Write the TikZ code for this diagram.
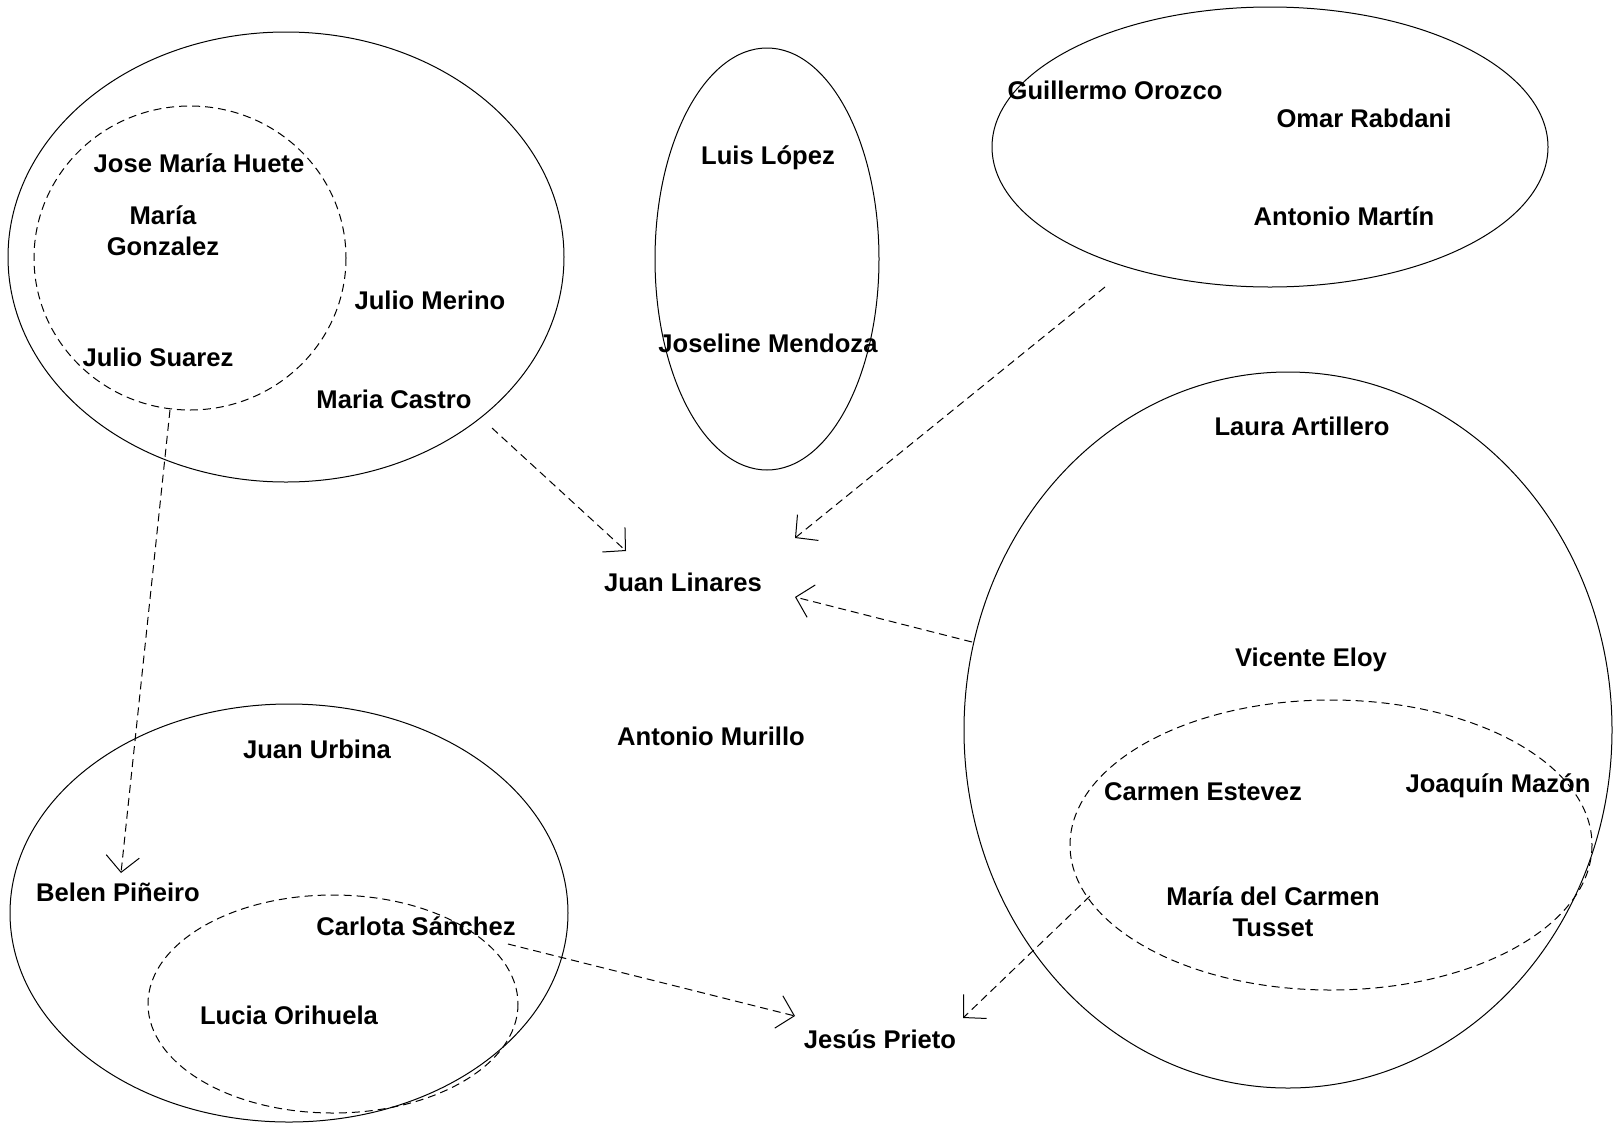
\documentclass[tikz,border=0pt]{standalone}
\usepackage{fontspec}
\setmainfont{Liberation Sans}
\usetikzlibrary{arrows.meta}

\tikzset{every picture/.style={line width=0.75pt}}
\tikzset{
  persona/.style={inner sep=0.75pt, font=\fontsize{19.2}{23}\selectfont\bfseries, align=center},
  borde/.style={dash pattern=on 6pt off 3.75pt},
  relacion/.style={borde, -{Straight Barb[length=12pt,width=25pt]}}
}

\begin{document}
\begin{tikzpicture}[x=0.75pt,y=0.75pt,yscale=-1,xscale=1]
        \useasboundingbox (0,0) rectangle (1613,1132);

        %Shape: Ellipse [id:grupo superior izquierdo]
        \draw (286,257) ellipse [x radius=278, y radius=225];
        %Shape: Ellipse [id:subgrupo superior izquierdo]
        \draw [borde] (190,258) ellipse [x radius=156, y radius=152];
        %Shape: Ellipse [id:grupo central]
        \draw (767,259) ellipse [x radius=112, y radius=211];
        %Shape: Ellipse [id:grupo superior derecho]
        \draw (1270,147) ellipse [x radius=278, y radius=140];
        %Shape: Ellipse [id:grupo derecho]
        \draw (1288,730) ellipse [x radius=324, y radius=358];
        %Shape: Ellipse [id:subgrupo derecho]
        \draw [borde] (1331,845) ellipse [x radius=261, y radius=145];
        %Shape: Ellipse [id:grupo inferior izquierdo]
        \draw (289,913) ellipse [x radius=279, y radius=209];
        %Shape: Ellipse [id:subgrupo inferior izquierdo]
        \draw [borde] (333,1004) ellipse [x radius=185, y radius=109];

        % Text Node
        \draw (199,163) node (huete) [persona] {Jose María Huete};
        % Text Node
        \draw (163,231) node (gonzalez) [persona] {María\\Gonzalez};
        % Text Node
        \draw (430,300) node (merino) [persona] {Julio Merino};
        % Text Node
        \draw (158,357) node (suarez) [persona] {Julio Suarez};
        % Text Node
        \draw (394,399) node (castro) [persona] {Maria Castro};
        % Text Node
        \draw (768,158) node (lopez) [persona] {Luis López};
        % Text Node
        \draw (768,343) node (mendoza) [persona] {Joseline Mendoza};
        % Text Node
        \draw (1115,90) node (orozco) [persona] {Guillermo Orozco};
        % Text Node
        \draw (1364,118) node (rabdani) [persona] {Omar Rabdani};
        % Text Node
        \draw (1344,216) node (martin) [persona] {Antonio Martín};
        % Text Node
        \draw (1302,426) node (artillero) [persona] {Laura Artillero};
        % Text Node
        \draw (683,582) node (linares) [persona] {Juan Linares};
        % Text Node
        \draw (1311,660) node (eloy) [persona] {Vicente Eloy};
        % Text Node
        \draw (711,736) node (murillo) [persona] {Antonio Murillo};
        % Text Node
        \draw (317,749) node (urbina) [persona] {Juan Urbina};
        % Text Node
        \draw (1203,792) node (estevez) [persona] {Carmen Estevez};
        % Text Node
        \draw (1498,786) node (mazon) [persona] {Joaquín Mazón};
        % Text Node
        \draw (118,892) node (pineiro) [persona] {Belen Piñeiro};
        % Text Node
        \draw (1273,912) node (tusset) [persona] {María del Carmen\\Tusset};
        % Text Node
        \draw (416,926) node (sanchez) [persona] {Carlota Sánchez};
        % Text Node
        \draw (289,1015) node (orihuela) [persona] {Lucia Orihuela};
        % Text Node
        \draw (880,1039) node (prieto) [persona] {Jesús Prieto};

        % Connector ends
        \coordinate (desdeCastro) at (492,428);
        \coordinate (hastaLinaresA) at (626,551);
        \coordinate (desdeOrozco) at (1105,287);
        \coordinate (hastaLinaresB) at (795,538);
        \coordinate (desdeArtillero) at (972,642);
        \coordinate (hastaLinaresC) at (795,597);
        \coordinate (desdeSuarez) at (170,410);
        \coordinate (hastaPineiro) at (121,873);
        \coordinate (desdeSanchez) at (508,944);
        \coordinate (hastaPrietoA) at (795,1016);
        \coordinate (desdeTusset) at (1090,896);
        \coordinate (hastaPrietoB) at (963,1018);

        %Straight Lines [id:relaciones]
        \draw [relacion] (desdeCastro) -- (hastaLinaresA);
        \draw [relacion] (desdeOrozco) -- (hastaLinaresB);
        \draw [relacion] (desdeArtillero) -- (hastaLinaresC);
        \draw [relacion] (desdeSuarez) -- (hastaPineiro);
        \draw [relacion] (desdeSanchez) -- (hastaPrietoA);
        \draw [relacion] (desdeTusset) -- (hastaPrietoB);

\end{tikzpicture}
\end{document}
